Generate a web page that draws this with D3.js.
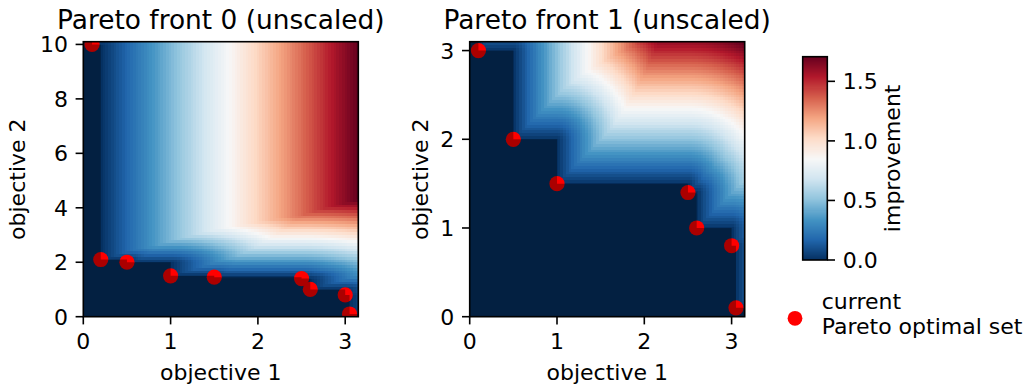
<!DOCTYPE html>
<html>
<head>
<meta charset="utf-8">
<script src="https://cdn.jsdelivr.net/npm/d3@7"></script>
<style>
  body { margin: 0; background: white; }
  text { font-family: "DejaVu Sans", sans-serif; fill: #000; }
  rect.cell, rect.cb { shape-rendering: crispEdges; }
</style>
</head>
<body>
<svg id="chart" width="1035" height="390"></svg>
<script>
// Pareto fronts (objective 1, objective 2)
const front0X = [0.1, 0.2, 0.5, 1.0, 1.5, 2.5, 2.6, 3.0, 3.05];
const front0Y = [10.0, 2.1, 2.0, 1.5, 1.45, 1.4, 1.0, 0.8, 0.1];
const front1X = [0.1, 0.5, 1.0, 2.5, 2.6, 3.0, 3.05];
const front1Y = [3.0, 2.0, 1.5, 1.4, 1.0, 0.8, 0.1];

const titles = ['Pareto front 0 (unscaled)', 'Pareto front 1 (unscaled)'];
const xTicks = [0, 1, 2, 3];
const yTicks0 = [0, 2, 4, 6, 8, 10];
const yTicks1 = [0, 1, 2, 3];
const cbTicks = [0, 0.5, 1.0, 1.5];

// matplotlib RdBu_r stops
const rdbu = ['#053061', '#2166ac', '#4393c3', '#92c5de', '#d1e5f0', '#f7f7f7',
              '#fddbc7', '#f4a582', '#d6604d', '#b2182b', '#67001f'];

const svg = d3.select('#chart');
svg.append('rect').attr('width', 1035).attr('height', 390).attr('fill', 'white');

const size = 275, plotTop = 41.7, N = 100;
const tickLen = 7.7, pad = 7.7, fs = 22;

// distance a point has to move to reach the non-dominated region (minimisation)
function improvement(px, py, xs, ys) {
  const boxes = [{ x: xs[0], y: Infinity }];
  xs.forEach((_, i) => boxes.push({ x: i + 1 < xs.length ? xs[i + 1] : Infinity, y: ys[i] }));
  let best = Infinity;
  boxes.forEach(b => {
    const dx = Math.max(0, px - b.x), dy = Math.max(0, py - b.y);
    best = Math.min(best, Math.hypot(dx, dy));
  });
  return best;
}

function colorScale(vmax) {
  return d3.scaleLinear().domain(rdbu.map((_, i) => vmax * i / 10)).range(rdbu).clamp(true);
}

function panel(idx, left, xs, ys, yTicks) {
  const xMax = d3.max(xs) + 0.1, yMax = d3.max(ys) + 0.1;
  const x = d3.scaleLinear().domain([0, xMax]).range([left, left + size]);
  const y = d3.scaleLinear().domain([0, yMax]).range([plotTop + size, plotTop]);

  // evaluate field on grid
  const cells = [];
  for (let j = 0; j < N; j++) {
    for (let i = 0; i < N; i++) {
      const cx = (i + 0.5) * xMax / N, cy = (j + 0.5) * yMax / N;
      cells.push({ i, j, v: improvement(cx, cy, xs, ys) });
    }
  }
  const vmax = d3.max(cells, d => d.v);
  const color = colorScale(vmax);

  const clipId = 'clip' + idx;
  svg.append('clipPath').attr('id', clipId)
    .append('rect').attr('x', left).attr('y', plotTop).attr('width', size).attr('height', size);

  const g = svg.append('g').attr('clip-path', `url(#${clipId})`);
  const cw = size / N;
  g.selectAll('rect.cell').data(cells).enter().append('rect')
    .attr('class', 'cell')
    .attr('x', d => x(d.i * xMax / N))
    .attr('y', d => y((d.j + 1) * yMax / N))
    .attr('width', cw + 0.6)
    .attr('height', cw + 0.6)
    .attr('fill', d => color(d.v));

  // current Pareto optimal set
  g.selectAll('circle').data(xs).enter().append('circle')
    .attr('cx', d => x(d))
    .attr('cy', (d, i) => y(ys[i]))
    .attr('r', 7.6)
    .attr('fill', '#ff0000');

  // shaded non-dominated region
  const pts = [[0, yMax], [xs[0], yMax]];
  xs.forEach((xv, i) => {
    if (i > 0) pts.push([xv, ys[i - 1]]);
    pts.push([xv, ys[i]]);
  });
  pts.push([xMax, ys[ys.length - 1]], [xMax, 0], [0, 0]);
  g.append('path')
    .attr('d', d3.line().x(d => x(d[0])).y(d => y(d[1]))(pts) + 'Z')
    .attr('fill', '#000').attr('fill-opacity', 0.33);

  // frame
  svg.append('rect').attr('x', left).attr('y', plotTop).attr('width', size).attr('height', size)
    .attr('fill', 'none').attr('stroke', '#000').attr('stroke-width', 1.6);

  // x axis
  xTicks.forEach(t => {
    svg.append('line').attr('x1', x(t)).attr('x2', x(t))
      .attr('y1', plotTop + size).attr('y2', plotTop + size + tickLen)
      .attr('stroke', '#000').attr('stroke-width', 1.6);
    svg.append('text').attr('x', x(t)).attr('y', plotTop + size + tickLen + pad + 16.5)
      .attr('text-anchor', 'middle').attr('font-size', fs).text(t);
  });
  // y axis
  yTicks.forEach(t => {
    svg.append('line').attr('x1', left - tickLen).attr('x2', left)
      .attr('y1', y(t)).attr('y2', y(t))
      .attr('stroke', '#000').attr('stroke-width', 1.6);
    svg.append('text').attr('x', left - tickLen - pad).attr('y', y(t) + 8)
      .attr('text-anchor', 'end').attr('font-size', fs).text(t);
  });

  svg.append('text').attr('x', left + size / 2).attr('y', 380)
    .attr('text-anchor', 'middle').attr('font-size', fs).text('objective 1');
  const labelX = idx === 0 ? 25 : 428;
  svg.append('text')
    .attr('transform', `translate(${labelX},${plotTop + size / 2}) rotate(-90)`)
    .attr('text-anchor', 'middle').attr('font-size', fs).text('objective 2');

  svg.append('text').attr('x', left + size / 2).attr('y', 28.5)
    .attr('text-anchor', 'middle').attr('font-size', 26.4).text(titles[idx]);

  return vmax;
}

panel(0, 83.3, front0X, front0Y, yTicks0);
const vmax1 = panel(1, 469.7, front1X, front1Y, yTicks1);

// colorbar
const cbLeft = 802.7, cbW = 24.6, cbTop = 56.7, cbBottom = 260;
const cbY = d3.scaleLinear().domain([0, vmax1]).range([cbBottom, cbTop]);
const cbColor = colorScale(vmax1);
const slices = d3.range(200).map(k => k * vmax1 / 200);
svg.selectAll('rect.cb').data(slices).enter().append('rect')
  .attr('class', 'cb')
  .attr('x', cbLeft).attr('width', cbW)
  .attr('y', d => cbY(d + vmax1 / 200) - 0.3)
  .attr('height', (cbBottom - cbTop) / 200 + 0.6)
  .attr('fill', d => cbColor(d + vmax1 / 400));
svg.append('rect').attr('x', cbLeft).attr('y', cbTop).attr('width', cbW).attr('height', cbBottom - cbTop)
  .attr('fill', 'none').attr('stroke', '#000').attr('stroke-width', 1.6);
cbTicks.forEach(t => {
  svg.append('line').attr('x1', cbLeft + cbW).attr('x2', cbLeft + cbW + tickLen)
    .attr('y1', cbY(t)).attr('y2', cbY(t)).attr('stroke', '#000').attr('stroke-width', 1.6);
  svg.append('text').attr('x', cbLeft + cbW + tickLen + pad).attr('y', cbY(t) + 8)
    .attr('font-size', fs).text(d3.format('.1f')(t));
});
svg.append('text')
  .attr('transform', `translate(900,${(cbTop + cbBottom) / 2}) rotate(-90)`)
  .attr('text-anchor', 'middle').attr('font-size', fs).text('improvement');

// legend
svg.append('circle').attr('cx', 795).attr('cy', 318.3).attr('r', 7.4).attr('fill', '#ff0000');
svg.append('text').attr('x', 821.7).attr('y', 309.3).attr('font-size', fs).text('current');
svg.append('text').attr('x', 821.7).attr('y', 334).attr('font-size', fs).text('Pareto optimal set');
</script>
</body>
</html>
